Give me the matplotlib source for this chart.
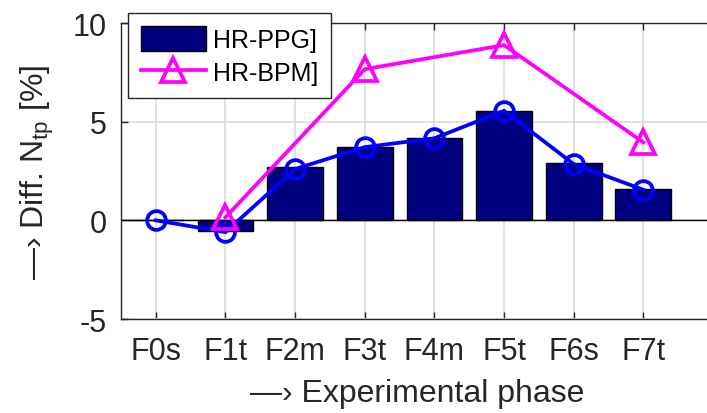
import numpy as np
import matplotlib
matplotlib.use("Agg")
import matplotlib.pyplot as plt

plt.rcParams['font.family'] = ['Liberation Sans', 'DejaVu Sans']
plt.rcParams['mathtext.fontset'] = 'custom'
plt.rcParams['mathtext.rm'] = 'Liberation Sans'
plt.rcParams['axes.unicode_minus'] = False

# data
phases = ['F0s', 'F1t', 'F2m', 'F3t', 'F4m', 'F5t', 'F6s', 'F7t']
ppg_bars = [0.0, -0.55, 2.68, 3.74, 4.18, 5.55, 2.9, 1.58]
ppg_line = [0.0, -0.6, 2.6, 3.71, 4.16, 5.55, 2.85, 1.55]
bpm_idx = [1, 3, 5, 7]
bpm_vals = [0.15, 7.66, 8.88, 3.95]

x = np.arange(len(phases))

fig = plt.figure(figsize=(7.07, 4.14), dpi=100)
ax = fig.add_axes([121 / 707, 94 / 414, 592 / 707, 296 / 414])

ax.grid(True, color='#dcdcdc', linewidth=1.2, zorder=0)
ax.set_axisbelow(True)

bars = ax.bar(x, ppg_bars, width=0.8, color='#000080', edgecolor='black',
              linewidth=1.0, label='HR-PPG]', zorder=2)
ax.axhline(0, color='black', linewidth=1.0, zorder=2.5)
ax.plot(x, ppg_line, '-o', color='blue', linewidth=2.7, markersize=13.5,
        markerfacecolor='none', markeredgewidth=2.7, zorder=3)
bpm_line, = ax.plot(bpm_idx, bpm_vals, '-^', color='magenta', linewidth=2.7,
                    markersize=17, markerfacecolor='none', markeredgewidth=2.7,
                    label='HR-BPM]', zorder=3)

ax.set_xlim(-0.5, 8.0)
ax.set_ylim(-5, 10)
ax.set_xticks(x)
ax.set_xticklabels(phases)
ax.set_yticks([-5, 0, 5, 10])
ax.tick_params(direction='in', length=5, width=1, colors='#262626',
               labelsize=22, labelcolor='#262626', top=True)
ax.tick_params(axis='x', pad=12)
ax.tick_params(axis='y', pad=10)
for s in ax.spines.values():
    s.set_color('#262626')
    s.set_linewidth(1.0)

ax.set_xlabel('—› Experimental phase', fontsize=23, color='#262626', labelpad=9)
ax.set_ylabel('—› Diff. N$_{\\rm tp}$ [%]', fontsize=23, color='#262626', labelpad=12)

leg = ax.legend(handles=[bars, bpm_line], loc='upper left',
                bbox_to_anchor=(128 / 707, 1 - 14 / 414),
                bbox_transform=fig.transFigure, fontsize=18, frameon=True,
                fancybox=False, framealpha=1, edgecolor='#262626',
                handlelength=2.6, handleheight=1.2, borderpad=0.5,
                labelspacing=0.3, handletextpad=0.3, borderaxespad=0)
leg.get_frame().set_linewidth(1.0)

fig.savefig('out.png', dpi=100)
